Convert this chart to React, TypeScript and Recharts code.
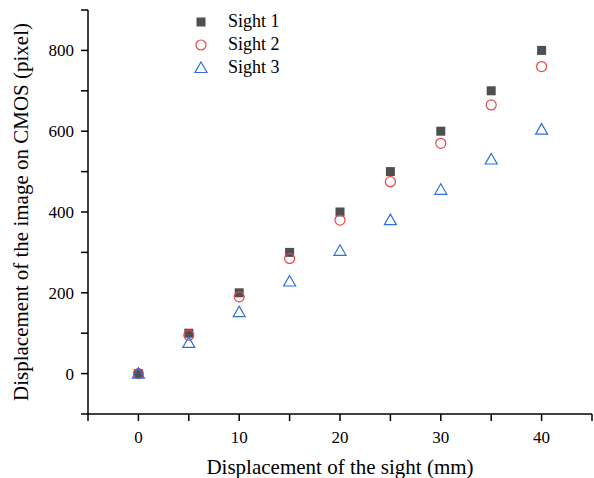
import React from 'react';
import { ScatterChart, Scatter, XAxis, YAxis } from 'recharts';

const sightDisplacement = [0, 5, 10, 15, 20, 25, 30, 35, 40];
const sight1 = [0, 100, 200, 300, 400, 500, 600, 700, 800];
const sight2 = [0, 95, 190, 285, 380, 475, 570, 665, 760];
const sight3 = [0, 76, 152, 228, 304, 380, 455, 530, 604];

const xTicks = [-5, 0, 5, 10, 15, 20, 25, 30, 35, 40, 45];
const yTicks = [-100, 0, 100, 200, 300, 400, 500, 600, 700, 800, 900];

const seriesNames = ['Sight 1', 'Sight 2', 'Sight 3'];
const FONT = '"Liberation Serif", "Times New Roman", serif';
const COLORS = { s1: '#4f4f4f', s2: '#f04545', s3: '#2f6fdf' };

const toPoints = (ys: number[]) => sightDisplacement.map((x, i) => ({ x, y: ys[i] }));
const data1 = toPoints(sight1);
const data2 = toPoints(sight2);
const data3 = toPoints(sight3);

const Square = (p: any) => (
  <rect x={p.cx - 4.5} y={p.cy - 4.5} width={9} height={9} fill={COLORS.s1} />
);
const Circle = (p: any) => (
  <circle cx={p.cx} cy={p.cy} r={5} fill="none" stroke={COLORS.s2} strokeWidth={1.2} />
);
const Triangle = (p: any) => (
  <path
    d={`M${p.cx},${p.cy - 6} L${p.cx + 6},${p.cy + 4.5} L${p.cx - 6},${p.cy + 4.5} Z`}
    fill="none"
    stroke={COLORS.s3}
    strokeWidth={1.2}
  />
);

const markerFor = (i: number) => {
  const c = { cx: 10, cy: 10 };
  if (i === 0) return <Square {...c} />;
  if (i === 1) return <Circle {...c} />;
  return <Triangle {...c} />;
};

const LegendBox = () => (
  <div
    style={{
      position: 'absolute',
      left: 191,
      top: 10,
      fontFamily: FONT,
      fontSize: 18,
      color: '#000',
      lineHeight: '23px',
    }}
  >
    {seriesNames.map((n, i) => (
      <div key={n} style={{ display: 'flex', alignItems: 'center', height: 23 }}>
        <svg width={20} height={20} style={{ marginRight: 17 }}>{markerFor(i)}</svg>
        <span>{n}</span>
      </div>
    ))}
  </div>
);

const YLabel = (props: any) => {
  const vb = props.viewBox || { x: 0, y: 10, width: 88, height: 404 };
  const cx = vb.x + 21;
  const cy = vb.y + vb.height / 2;
  return (
    <text
      x={cx}
      y={cy}
      transform={`rotate(-90 ${cx} ${cy})`}
      textAnchor="middle"
      dominantBaseline="central"
      fontFamily={FONT}
      fontSize={21}
      fill="#000"
    >
      Displacement of the image on CMOS (pixel)
    </text>
  );
};

const XLabel = (props: any) => {
  const vb = props.viewBox || { x: 88, y: 414, width: 504, height: 64 };
  const cx = vb.x + vb.width / 2;
  const cy = vb.y + 53;
  return (
    <text x={cx} y={cy} textAnchor="middle" dominantBaseline="central" fontFamily={FONT} fontSize={21} fill="#000">
      Displacement of the sight (mm)
    </text>
  );
};

export default function App() {
  return (
    <div style={{ position: 'absolute', left: 0, top: 0, width: 594, height: 478, background: '#fff' }}>
      <ScatterChart width={594} height={478} margin={{ top: 10, right: 2, bottom: 0, left: 0 }}>
        <XAxis
          type="number"
          dataKey="x"
          domain={[-5, 45]}
          ticks={xTicks}
          interval={0}
          allowDataOverflow
          tickFormatter={(v: number) => (v % 10 === 0 ? String(v) : '')}
          height={64}
          tickSize={7}
          tickMargin={10}
          axisLine={{ stroke: '#000', strokeWidth: 1.5 }}
          tickLine={{ stroke: '#000', strokeWidth: 1.5 }}
          tick={{ fill: '#000', fontFamily: FONT, fontSize: 17 }}
          label={{ content: XLabel }}
        />
        <YAxis
          type="number"
          dataKey="y"
          domain={[-100, 900]}
          ticks={yTicks}
          interval={0}
          allowDataOverflow
          tickFormatter={(v: number) => (v % 200 === 0 ? String(v) : '')}
          width={88}
          tickSize={7}
          tickMargin={7}
          axisLine={{ stroke: '#000', strokeWidth: 1.5 }}
          tickLine={{ stroke: '#000', strokeWidth: 1.5 }}
          tick={{ fill: '#000', fontFamily: FONT, fontSize: 17 }}
          label={{ content: YLabel }}
        />
        <Scatter name="Sight 1" data={data1} shape={Square} isAnimationActive={false} />
        <Scatter name="Sight 2" data={data2} shape={Circle} isAnimationActive={false} />
        <Scatter name="Sight 3" data={data3} shape={Triangle} isAnimationActive={false} />
      </ScatterChart>
      <LegendBox />
    </div>
  );
}
